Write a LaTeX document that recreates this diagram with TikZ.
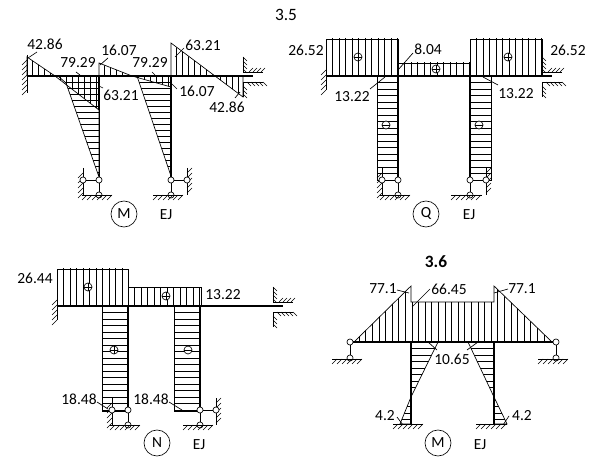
\documentclass[tikz,border=0pt]{standalone}
\usepackage{fontspec}
\setmainfont{Carlito}
\usepackage{tikz}
\usetikzlibrary{calc}

\tikzset{
	x=0.75pt,y=-0.75pt,
	lbl/.style={font=\fontsize{11.6}{13}\selectfont,inner sep=0pt},
	ttl/.style={font=\fontsize{13}{14}\selectfont,inner sep=0pt},
	hinge/.style={draw,circle,fill=white,inner sep=0pt,minimum size=4.6pt,line width=0.5pt},
	thin line/.style={line width=0.5pt},
	hatch line/.style={line width=0.4pt},
	bar/.style={line width=1.9pt},
}
% #1 outline, #2 first, #3 second, #4 last
\newcommand{\vhatch}[4]{
	\begin{scope}
		\clip #1;
		\foreach \x in {#2,#3,...,#4} \draw[hatch line] (\x,0) -- (\x,460);
	\end{scope}
	\draw[thin line] #1;
}
\newcommand{\hhatch}[4]{
	\begin{scope}
		\clip #1;
		\foreach \y in {#2,#3,...,#4} \draw[hatch line] (0,\y) -- (608,\y);
	\end{scope}
	\draw[thin line] #1;
}
% ground line: x from, x to, y
\newcommand{\ground}[3]{
	\draw[thin line] (#1,#3) -- (#2,#3);
	\foreach \x [parse=true] in {#1+5,#1+10,...,#2} \draw[hatch line] (\x,#3) -- (\x-5,#3+5);
}
% wall line: x, y from, y to, side
\newcommand{\wall}[4]{
	\draw[thin line] (#1,#2) -- (#1,#3);
	\foreach \y [parse=true] in {#2+5,#2+10,...,#3} \draw[hatch line] (#1,\y) -- (#1+5*#4,\y-5*#4);
}
% sliding end of the beam: x, y of the beam axis
\newcommand{\guide}[2]{
	\draw[thin line] (#1,#2-19) -- (#1,#2-4) -- (#1+20,#2-4);
	\foreach \y [parse=true] in {#2-19,#2-15,...,#2-6} \draw[hatch line] (#1,\y) -- (#1+4,\y+4);
	\foreach \x [parse=true] in {#1+6,#1+10,...,#1+20} \draw[hatch line] (\x,#2-4) -- (\x+4,#2-8);
	\draw[thin line] (#1+20,#2+6) -- (#1,#2+6) -- (#1,#2+21);
	\foreach \x [parse=true] in {#1+4,#1+8,...,#1+20} \draw[hatch line] (\x,#2+6) -- (\x+4,#2+10);
	\foreach \y [parse=true] in {#2+10,#2+14,...,#2+19} \draw[hatch line] (#1,\y) -- (#1+4,\y+4);
}
% foot of a column: name, x, y, side of the wall
\newcommand{\colfoot}[4]{
	\wall{#2+16*#4}{#3-12}{#3+15}{#4}
	\node[hinge] (#1a) at (#2,#3) {};
	\node[hinge] (#1b) at (#2+16*#4,#3) {};
	\node[hinge] (#1c) at (#2,#3+15) {};
	\draw[thin line] (#1a) -- (#1b);
	\draw[thin line] (#1a) -- (#1c);
}
\newcommand{\plusmark}[1]{
	\draw[thin line,fill=white] (#1) circle[radius=4];
	\draw[thin line] ($(#1)+(-4,0)$) -- ($(#1)+(4,0)$);
	\draw[thin line] ($(#1)+(0,-4)$) -- ($(#1)+(0,4)$);
}
\newcommand{\minusmark}[1]{
	\draw[thin line,fill=white] (#1) circle[radius=4];
	\draw[thin line] ($(#1)+(-4,0)$) -- ($(#1)+(4,0)$);
}

\begin{document}
\begin{tikzpicture}
	\useasboundingbox (0,0) rectangle (608,460);
	\node[ttl] (title35) at (286,15) {3.5};

	% 3.5 moment
	\vhatch{(27,57) -- (55,76) -- (27,76) -- cycle}{32}{38}{55}
	\vhatch{(55,76) -- (99,110) -- (99,76) -- cycle}{60}{66}{99}
	\vhatch{(99,63) -- (132,76) -- (99,76) -- cycle}{104}{110}{132}
	\vhatch{(132,76) -- (171,87) -- (171,76) -- cycle}{138}{144}{171}
	\vhatch{(171,43) -- (215,76) -- (171,76) -- cycle}{176}{182}{215}
	\vhatch{(215,76) -- (243,97) -- (243,76) -- cycle}{220}{226}{243}
	\hhatch{(58,76) -- (99,76) -- (99,177) -- (66,83) -- cycle}{82}{88}{177}
	\hhatch{(137,76) -- (171,76) -- (171,176) -- cycle}{82}{88}{177}
	\draw[bar] (27,76) -- (253,76);
	\draw[bar] (99,76) -- (99,110);
	\draw[thin line] (99,110) -- (99,180);
	\draw[bar] (171,76) -- (171,180);
	\wall{27}{55}{93}{-1}
	\guide{243}{76}
	\colfoot{ma}{99}{180}{-1}
	\colfoot{mb}{171}{180}{1}
	\ground{82}{112}{195}
	\ground{153}{183}{195}
	\node[lbl] (m1) at (45,44) {42.86};
	\node[lbl] (m2) at (78,63) {79.29};
	\node[lbl] (m3) at (119,50) {16.07};
	\node[lbl] (m4) at (150,63) {79.29};
	\node[lbl] (m5) at (121,95) {63.21};
	\node[lbl] (m6) at (197,91) {16.07};
	\node[lbl] (m7) at (203,45) {63.21};
	\node[lbl] (m8) at (227,107) {42.86};
	\draw[thin line] (28,58) -- (37,52);
	\draw[thin line] (76,72) -- (80,75);
	\draw[thin line] (100,65) -- (108,58);
	\draw[thin line] (152,72) -- (155,75);
	\draw[thin line] (99,86) -- (103,88);
	\draw[thin line] (172,84) -- (177,89);
	\draw[thin line] (175,57) -- (184,48);
	\draw[thin line] (235,98) -- (240,92);
	\draw[thin line] (124,214) circle[radius=13] node[lbl] (mcap) {M};
	\node[lbl] (mej) at (166,215) {EJ};

	% 3.5 shear
	\vhatch{(326,39) rectangle (398,76)}{332.5}{339}{398}
	\vhatch{(398,63) rectangle (470,76)}{404.5}{411}{470}
	\vhatch{(470,39) rectangle (542,76)}{476.5}{483}{542}
	\hhatch{(377,76) rectangle (398,180)}{82.5}{89}{180}
	\hhatch{(470,76) rectangle (491,180)}{82.5}{89}{180}
	\draw[bar] (326,76) -- (552,76);
	\draw[bar] (398,76) -- (398,180);
	\draw[line width=1.2pt] (470,76) -- (470,180);
	\wall{326}{65}{90}{-1}
	\guide{542}{76}
	\colfoot{qa}{398}{180}{-1}
	\colfoot{qb}{470}{180}{1}
	\ground{380}{410}{195}
	\ground{451}{482}{195}
	\plusmark{358,57}
	\plusmark{436,69}
	\plusmark{508,57}
	\minusmark{386,125}
	\minusmark{479,125}
	\node[lbl] (q1) at (306,50) {26.52};
	\node[lbl] (q2) at (568,50) {26.52};
	\node[lbl] (q3) at (428,49) {8.04};
	\node[lbl] (q4) at (352,97) {13.22};
	\node[lbl] (q5) at (516,94) {13.22};
	\draw[thin line] (398,70) -- (413,53);
	\draw[thin line] (370,89) -- (385,77);
	\draw[thin line] (483,77) -- (498,85);
	\draw[thin line] (426,214) circle[radius=13] node[lbl] (qcap) {Q};
	\node[lbl] (qej) at (469,215) {EJ};

	% 3.5 axial
	\vhatch{(57,269) rectangle (128,306)}{63.5}{70}{128}
	\vhatch{(128,287) rectangle (201,306)}{134.5}{141}{201}
	\hhatch{(102,306) rectangle (128,411)}{312.5}{319}{411}
	\hhatch{(174,306) rectangle (200,411)}{312.5}{319}{411}
	\draw[bar] (57,306) -- (283,306);
	\draw[line width=1.2pt] (128,306) -- (128,410);
	\draw[line width=1.2pt] (200,306) -- (200,410);
	\wall{57}{295}{320}{-1}
	\guide{273}{306}
	\colfoot{na}{128}{410}{-1}
	\colfoot{nb}{200}{410}{1}
	\ground{110}{140}{425}
	\ground{183}{213}{425}
	\plusmark{88,287}
	\plusmark{166,296}
	\plusmark{114,350}
	\minusmark{188,350}
	\node[lbl] (n1) at (35,278) {26.44};
	\node[lbl] (n2) at (223,295) {13.22};
	\node[lbl] (n3) at (79,399) {18.48};
	\node[lbl] (n4) at (151,399) {18.48};
	\draw[thin line] (97,402) -- (108,409);
	\draw[thin line] (169,402) -- (182,410);
	\draw[thin line] (157,443) circle[radius=13] node[lbl] (ncap) {N};
	\node[lbl] (nej) at (199,445) {EJ};

	% 3.6 moment
	\node[ttl] (title36) at (436,262) {\textbf{3.6}};
	\vhatch{(354,342) -- (411,286) -- (411,302) -- (494,302) -- (494,286) -- (552,342) -- cycle}{359}{365.6}{552}
	\hhatch{(411,342) -- (438,342) -- (411,397) -- cycle}{348.5}{355}{400}
	\hhatch{(494,342) -- (468,342) -- (494,397) -- cycle}{348.5}{355}{400}
	\hhatch{(411,397) -- (400,424) -- (411,424) -- cycle}{400}{406.5}{424}
	\hhatch{(494,397) -- (507,424) -- (494,424) -- cycle}{400}{406.5}{424}
	\draw[bar] (350,342) -- (556,342);
	\draw[bar] (411,342) -- (411,424);
	\draw[bar] (494,342) -- (494,424);
	\node[hinge] (pa) at (350,342) {};
	\node[hinge] (pb) at (350,358) {};
	\node[hinge] (pc) at (556,342) {};
	\node[hinge] (pd) at (556,358) {};
	\draw[thin line] (pa) -- (pb);
	\draw[thin line] (pc) -- (pd);
	\ground{332}{362}{359}
	\ground{538}{568}{359}
	\ground{393}{423}{424}
	\ground{476}{507}{424}
	\node[lbl] (p1) at (383,289) {77.1};
	\node[lbl] (p2) at (449,289) {66.45};
	\node[lbl] (p3) at (522,289) {77.1};
	\node[lbl] (p4) at (452,359) {10.65};
	\node[lbl] (p5) at (385,416) {4.2};
	\node[lbl] (p6) at (522,416) {4.2};
	\draw[thin line] (397,290) -- (409,293);
	\draw[thin line] (412,307) -- (430,289);
	\draw[thin line] (494,293) -- (508,289);
	\draw[thin line] (428,342) -- (437,350);
	\draw[thin line] (478,342) -- (467,350);
	\draw[thin line] (397,417) -- (403,425);
	\draw[thin line] (503,425) -- (509,416);
	\draw[thin line] (438,443) circle[radius=13] node[lbl] (pcap) {M};
	\node[lbl] (pej) at (480,445) {EJ};
\end{tikzpicture}
\end{document}
